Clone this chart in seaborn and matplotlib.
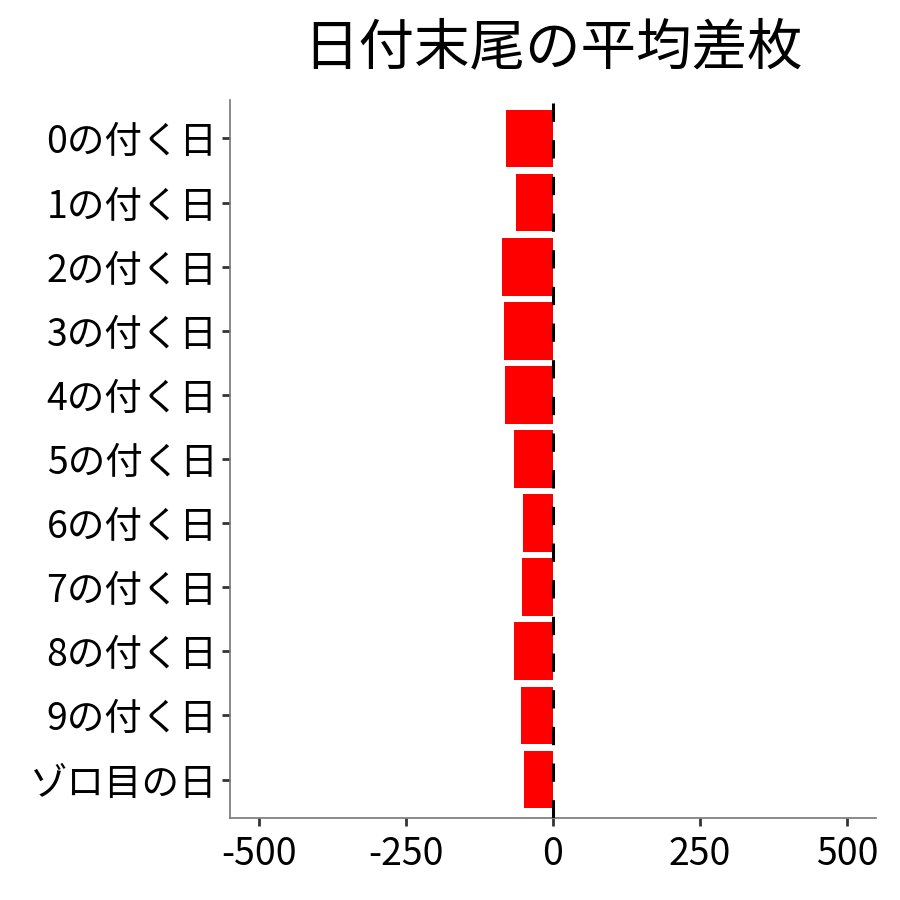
import matplotlib
matplotlib.use("Agg")
import matplotlib.pyplot as plt
import seaborn as sns
import pandas as pd

categories = ["0の付く日", "1の付く日", "2の付く日", "3の付く日", "4の付く日",
              "5の付く日", "6の付く日", "7の付く日", "8の付く日", "9の付く日", "ゾロ目の日"]
values = [-80, -63, -87, -83, -82, -66, -51, -53, -66, -54, -49]
xticks = [-500, -250, 0, 250, 500]
title = "日付末尾の平均差枚"

sns.set_theme(style="white")
plt.rcParams['font.family'] = ['Noto Sans CJK JP', 'DejaVu Sans']

df = pd.DataFrame({"cat": categories, "val": values})

fig = plt.figure(figsize=(9, 9), dpi=100)
ax = fig.add_axes([230/900, 82/900, 646/900, 718/900])

sns.barplot(data=df, x="val", y="cat", order=categories, color="#ff0000",
            saturation=1, width=0.9, ax=ax, orient="h")
for p in ax.patches:
    p.set_edgecolor("none")

ax.axvline(0, color="black", lw=2.2, ls=(0, (6, 6)), zorder=5)

ax.set_xlim(-549, 549)
ax.set_ylim(len(categories) - 0.4, -0.6)
ax.set_xticks(xticks)
ax.set_xticklabels([str(t) for t in xticks])
ax.set_xlabel("")
ax.set_ylabel("")

for s in ["top", "right"]:
    ax.spines[s].set_visible(False)
for s in ["left", "bottom"]:
    ax.spines[s].set_color("#777777")
    ax.spines[s].set_linewidth(1.2)

ax.tick_params(axis="y", which="major", length=6, width=2, color="#333333",
               labelsize=27, labelcolor="black", pad=3, left=True)
ax.tick_params(axis="x", which="major", length=6, width=2, color="#333333",
               labelsize=27, labelcolor="black", pad=6, bottom=True)

fig.text((230 + 876) / 2 / 900, 1 - 48/900, title, ha="center", va="center",
         fontsize=40, color="black")

fig.savefig("out.png", dpi=100)
